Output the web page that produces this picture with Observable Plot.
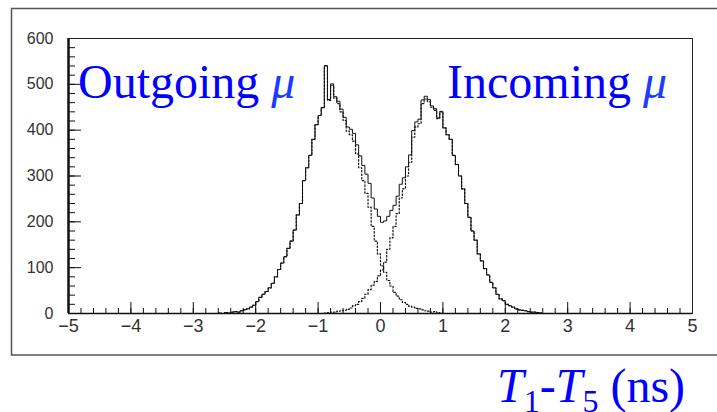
<!DOCTYPE html>
<html><head><meta charset="utf-8">
<script src="https://cdn.jsdelivr.net/npm/d3@7"></script>
<script src="https://cdn.jsdelivr.net/npm/@observablehq/plot@0.6"></script>
<style>body{margin:0;background:#fff} svg{display:block}</style>
</head><body><div id="chart"></div>
<script>
// Histogram bins (ns) and counts
const binWidth = 0.05;
const outgoingStart = -2.6;
const outgoing = [1,0,2,1,3,4,3,6,8,10,14,18,26,35,42,48,56,66,80,96,110,124,142,158,182,215,240,290,318,345,380,412,432,449,540,465,498,470,458,440,421,398,390,376,348,318,290,262,232,190,158,130,104,90,72,60,46,38,30,24,20,16,14,11,10,8,6,5,3,4,2,1];
const incomingStart = -0.9;
const incoming = [1,2,3,3,5,6,7,9,12,17,20,26,33,42,52,62,70,82,95,112,140,165,190,218,252,272,300,330,385,407,414,458,468,462,450,443,425,440,405,390,380,345,325,300,272,240,210,180,160,130,115,98,84,68,56,42,32,28,20,17,14,10,8,7,6,4,3,3,2,1];

const xTicks = [-5,-4,-3,-2,-1,0,1,2,3,4,5];
const xTickLabels = ["\u22125","\u22124","\u22123","\u22122","\u22121","0","1","2","3","4","5"];
const xMinorTicks = [-5,-4.8,-4.6,-4.4,-4.2,-4,-3.8,-3.6,-3.4,-3.2,-3,-2.8,-2.6,-2.4,-2.2,-2,-1.8,-1.6,-1.4,-1.2,-1,-0.8,-0.6,-0.4,-0.2,0,0.2,0.4,0.6,0.8,1,1.2,1.4,1.6,1.8,2,2.2,2.4,2.6,2.8,3,3.2,3.4,3.6,3.8,4,4.2,4.4,4.6,4.8,5];
const yTicks = [0,100,200,300,400,500,600];
const yTickLabels = ["0","100","200","300","400","500","600"];
const yMinorTicks = [0,20,40,60,80,100,120,140,160,180,200,220,240,260,280,300,320,340,360,380,400,420,440,460,480,500,520,540,560,580,600];

const labelOut = "Outgoing";
const labelIn = "Incoming";
const muSymbol = "\u03BC";

function toRows(start, vals) {
  const rows = vals.map((v, i) => ({x: +(start + i * binWidth).toFixed(3), y: v}));
  rows.unshift({x: +start.toFixed(3), y: 0});
  rows.push({x: +(start + vals.length * binWidth).toFixed(3), y: 0});
  return rows;
}
const outRows = toRows(outgoingStart, outgoing);
const inRows = toRows(incomingStart, incoming);

const totalMap = new Map();
[[outgoingStart, outgoing], [incomingStart, incoming]].forEach(([s, vals]) =>
  vals.forEach((v, i) => {
    const k = Math.round((s + i * binWidth) * 100);
    totalMap.set(k, (totalMap.get(k) || 0) + v);
  }));
const keys = [...totalMap.keys()].sort((a, b) => a - b);
const totalRows = [{x: -5, y: 0}, {x: keys[0] / 100, y: 0},
  ...keys.map(k => ({x: k / 100, y: totalMap.get(k)})),
  {x: +(keys[keys.length - 1] / 100 + binWidth).toFixed(3), y: 0}, {x: 5, y: 0}];

const chart = Plot.plot({
  width: 717, height: 412,
  marginLeft: 68, marginRight: 25, marginTop: 38, marginBottom: 99,
  x: {domain: [-5, 5], label: null},
  y: {domain: [0, 600], label: null},
  style: {background: "#fff"},
  marks: [
    Plot.line(totalRows, {x: "x", y: "y", curve: "step-after", stroke: "#111", strokeWidth: 1}),
    Plot.line(outRows, {x: "x", y: "y", curve: "step-after", stroke: "#111", strokeWidth: 1.2, strokeDasharray: "1.5,2"}),
    Plot.line(inRows, {x: "x", y: "y", curve: "step-after", stroke: "#111", strokeWidth: 1.2, strokeDasharray: "1.5,2"}),
    Plot.axisY(yMinorTicks, {anchor: "left", tickSize: -7, fill: "none", stroke: "#111", label: null}),
    Plot.axisY(yTicks, {anchor: "left", tickSize: -13, fill: "none", stroke: "#111", label: null}),
    Plot.axisY(yTicks, {anchor: "left", tickSize: 0, tickPadding: 15, label: null,
      tickFormat: d => yTickLabels[yTicks.indexOf(d)], fontSize: 16, fontFamily: "Liberation Sans", fill: "#333"}),
    Plot.axisX(xMinorTicks, {anchor: "bottom", tickSize: -5, fill: "none", stroke: "#111", label: null}),
    Plot.axisX(xTicks, {anchor: "bottom", tickSize: -11, fill: "none", stroke: "#111", label: null}),
    Plot.axisX(xTicks, {anchor: "bottom", tickSize: 0, tickPadding: 6, label: null,
      tickFormat: d => xTickLabels[xTicks.indexOf(d)], fontSize: 18, fontFamily: "Liberation Sans Narrow, Liberation Sans", fill: "#333"}),
    Plot.frame({stroke: "#222", strokeWidth: 1}),
    Plot.ruleX([-5], {stroke: "#111", strokeWidth: 2.5}),
    Plot.ruleY([0], {stroke: "#111", strokeWidth: 1.5})
  ]
});

const svg = d3.select(chart);
svg.append("rect").attr("x", 11.5).attr("y", 8.5).attr("width", 720).attr("height", 346.5)
  .attr("fill", "none").attr("stroke", "#555").attr("stroke-width", 1.5);

const g = svg.append("g")
  .attr("font-family", "'Liberation Serif', 'Times New Roman', serif")
  .attr("font-size", 48).attr("fill", "#0000ff").attr("text-anchor", "start");
const t1 = g.append("text").attr("x", 78).attr("y", 98).attr("text-anchor", "start");
t1.append("tspan").text(labelOut + " ");
t1.append("tspan").attr("font-style", "italic").attr("fill", "#1a3dff").text(muSymbol);
const t2 = g.append("text").attr("x", 447).attr("y", 98).attr("text-anchor", "start");
t2.append("tspan").text(labelIn + " ");
t2.append("tspan").attr("font-style", "italic").attr("fill", "#1a3dff").text(muSymbol);
const t3 = g.append("text").attr("x", 497).attr("y", 402).attr("text-anchor", "start");
t3.append("tspan").attr("font-style", "italic").text("T");
t3.append("tspan").attr("font-size", 32).attr("dy", 10).text("1");
t3.append("tspan").attr("dy", -10).text("-");
t3.append("tspan").attr("font-style", "italic").text("T");
t3.append("tspan").attr("font-size", 32).attr("dy", 10).text("5");
t3.append("tspan").attr("dy", -10).text(" (ns)");

document.getElementById("chart").appendChild(chart);
</script>
</body></html>
